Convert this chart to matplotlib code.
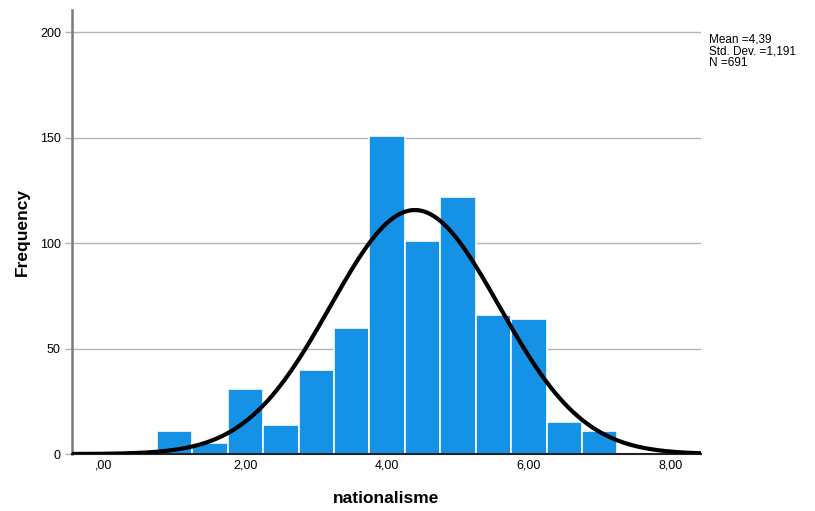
import numpy as np
import matplotlib.pyplot as plt

# histogram of nationalisme (bin centres and counts)
bin_centers = [1.0, 1.5, 2.0, 2.5, 3.0, 3.5, 4.0, 4.5, 5.0, 5.5, 6.0, 6.5, 7.0]
counts = [11, 5, 31, 14, 40, 60, 151, 101, 122, 66, 64, 15, 11]
bin_width = 0.5
mean = 4.39
std = 1.191
n = 691
x_ticks = [0, 2, 4, 6, 8]
x_ticklabels = [",00", "2,00", "4,00", "6,00", "8,00"]
y_ticks = [0, 50, 100, 150, 200]

plt.rcParams['font.family'] = ['Liberation Sans', 'DejaVu Sans']

fig = plt.figure(figsize=(8.15, 5.11), dpi=100)
ax = fig.add_axes([0.0883, 0.1115, 0.7718, 0.8685])

ax.set_axisbelow(True)
ax.yaxis.grid(True, color='#b4b4b4', linewidth=1)
ax.bar(bin_centers, counts, width=bin_width, color='#1591e5',
       edgecolor='white', linewidth=1.2, zorder=2)

xlim = (-0.45, 8.43)
xs = np.linspace(xlim[0], xlim[1], 400)
curve = n * bin_width / (std * np.sqrt(2 * np.pi)) * np.exp(-0.5 * ((xs - mean) / std) ** 2)
ax.plot(xs, curve, color='black', linewidth=3, zorder=3, solid_capstyle='butt')

ax.set_xlim(*xlim)
ax.set_ylim(0, 210.5)
ax.set_xticks(x_ticks)
ax.set_xticklabels(x_ticklabels)
ax.set_yticks(y_ticks)

for s in ['top', 'right']:
    ax.spines[s].set_visible(False)
ax.spines['left'].set_color('#7a7a7a')
ax.spines['left'].set_linewidth(1.8)
ax.spines['bottom'].set_color('#222222')
ax.spines['bottom'].set_linewidth(1.5)
ax.tick_params(axis='y', length=5, width=1, color='#b4b4b4', labelsize=9, pad=3)
ax.tick_params(axis='x', length=0, labelsize=9, pad=4)

ax.set_xlabel('nationalisme', fontsize=12.5, fontweight='bold', labelpad=14)
ax.set_ylabel('Frequency', fontsize=12.5, fontweight='bold', labelpad=7)

fig.text(0.870, 0.934, f"Mean =4,39\nStd. Dev. =1,191\nN =691",
         fontsize=8.5, va='top', ha='left', linespacing=0.95)

fig.savefig('out.png', dpi=100)
